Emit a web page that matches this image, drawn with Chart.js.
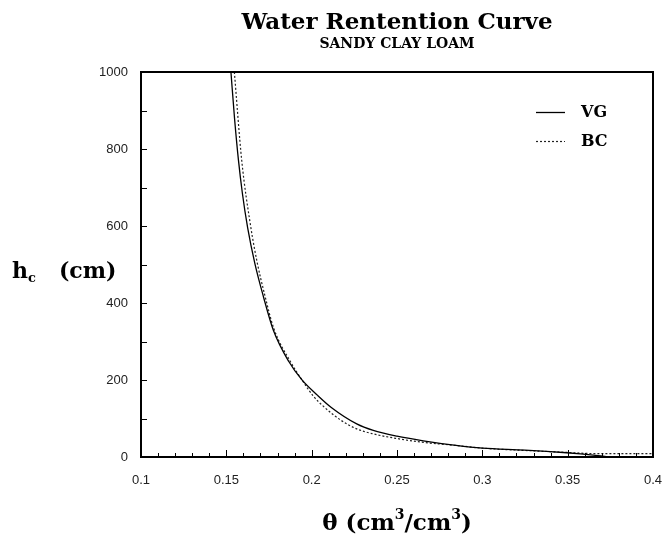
<!DOCTYPE html>
<html>
<head>
<meta charset="utf-8">
<script src="https://cdn.jsdelivr.net/npm/chart.js@4.4.1/dist/chart.umd.min.js"></script>
<style>
    html, body { margin: 0; padding: 0; background: #fff; }
</style>
</head>
<body>
<canvas id="waterChart" width="663" height="539"></canvas>
<script>
'use strict';

// van Genuchten curve (theta, h)
var vgTheta = [0.1527, 0.1548, 0.1571, 0.1594, 0.1625, 0.1667, 0.1717, 0.1775, 0.1866, 0.1942, 0.2035, 0.2117, 0.2264, 0.2361, 0.25, 0.2654, 0.2846, 0.3, 0.325, 0.3494, 0.365, 0.375];
var vgHead = [1000, 880, 771, 685, 595, 503, 417, 330, 248, 201, 160, 128, 86, 69, 54, 42, 30, 23, 18, 11, 5, 0];

// Brooks-Corey curve (theta, h)
var bcTheta = [0.1547, 0.159, 0.1643, 0.168, 0.1725, 0.1778, 0.1875, 0.1942, 0.201, 0.2068, 0.2166, 0.2264, 0.2361, 0.25, 0.2654, 0.2846, 0.3, 0.325, 0.3494, 0.365, 0.4];
var bcHead = [1000, 771, 598, 507, 421, 334, 248, 201, 158, 132, 97, 73, 60, 48, 38, 30, 23, 17, 12, 9, 9];

var seriesNames = ['VG', 'BC'];
var xTickValues = [0.1, 0.15, 0.2, 0.25, 0.3, 0.35, 0.4];
var yTickValues = [0, 200, 400, 600, 800, 1000];

var serif = '"DejaVu Serif", serif';

function toPoints(xs, ys) {
    var pts = [];
    for (var i = 0; i < xs.length; i++) {
        pts.push({x: xs[i], y: ys[i]});
    }
    return pts;
}

// draws a row of text pieces (for sub/superscripts), centred or left aligned
function drawRuns(ctx, runs, x, y, align) {
    var total = 0;
    runs.forEach(function (r) {
        ctx.font = r.font;
        r.w = ctx.measureText(r.text).width;
        total += r.w;
    });
    var cx = align === 'center' ? x - total / 2 : x;
    ctx.textAlign = 'left';
    ctx.textBaseline = 'alphabetic';
    runs.forEach(function (r) {
        ctx.font = r.font;
        ctx.fillText(r.text, cx, y + (r.dy || 0));
        cx += r.w;
    });
}

var decorPlugin = {
    id: 'decor',
    afterDatasetsDraw: function (chart) {
        var ctx = chart.ctx;
        var a = chart.chartArea;
        var xs = chart.scales.x;
        var ys = chart.scales.y;
        ctx.save();
        ctx.strokeStyle = '#000';

        // inward ticks
        ctx.lineWidth = 1;
        ctx.beginPath();
        for (var i = 11; i < 40; i++) {
            var px = Math.round(xs.getPixelForValue(i / 100)) + 0.5;
            var len = (i % 5 === 0) ? 7 : 4;
            ctx.moveTo(px, a.bottom);
            ctx.lineTo(px, a.bottom - len);
        }
        for (var v = 100; v < 1000; v += 100) {
            var py = Math.round(ys.getPixelForValue(v)) + 0.5;
            ctx.moveTo(a.left, py);
            ctx.lineTo(a.left + 6, py);
        }
        ctx.stroke();

        // frame
        ctx.lineWidth = 2;
        ctx.strokeRect(a.left, a.top, a.right - a.left, a.bottom - a.top);

        ctx.fillStyle = '#000';
        var mid = (a.left + a.right) / 2;

        // titles
        drawRuns(ctx, [{text: 'Water Rentention Curve', font: 'bold 23px ' + serif}], mid, 29, 'center');
        drawRuns(ctx, [{text: 'SANDY CLAY LOAM', font: 'bold 14px ' + serif}], mid, 48, 'center');

        // axis titles
        var big = 'bold 23px ' + serif;
        var small = 'bold 14px ' + serif;
        drawRuns(ctx, [
            {text: '\u03B8 (cm', font: big},
            {text: '3', font: small, dy: -11},
            {text: '/cm', font: big},
            {text: '3', font: small, dy: -11},
            {text: ')', font: big}
        ], mid, 530, 'center');
        drawRuns(ctx, [
            {text: 'h', font: 'bold 22px ' + serif},
            {text: 'c', font: 'bold 13px ' + serif, dy: 4},
            {text: '   (cm)', font: 'bold 22px ' + serif}
        ], 12, 278, 'left');

        // legend
        chart.data.datasets.forEach(function (ds, k) {
            var ly = a.top + 40 + k * 29;
            ctx.beginPath();
            ctx.lineWidth = ds.borderWidth;
            ctx.strokeStyle = ds.borderColor;
            ctx.setLineDash(ds.borderDash || []);
            ctx.moveTo(a.right - 117, ly + 0.5);
            ctx.lineTo(a.right - 88, ly + 0.5);
            ctx.stroke();
            ctx.setLineDash([]);
            ctx.fillStyle = '#000';
            ctx.font = 'bold 16px ' + serif;
            ctx.textBaseline = 'middle';
            ctx.fillText(ds.label, a.right - 72, ly + 1);
        });
        ctx.restore();
    }
};

var ctx = document.getElementById('waterChart').getContext('2d');
new Chart(ctx, {
    type: 'scatter',
    data: {
        datasets: [
            {
                label: seriesNames[0],
                data: toPoints(vgTheta, vgHead),
                showLine: true,
                borderColor: '#000',
                borderWidth: 1.3,
                pointRadius: 0,
                cubicInterpolationMode: 'monotone'
            },
            {
                label: seriesNames[1],
                data: toPoints(bcTheta, bcHead),
                showLine: true,
                borderColor: '#222',
                borderWidth: 1.2,
                borderDash: [2, 2],
                pointRadius: 0,
                cubicInterpolationMode: 'monotone'
            }
        ]
    },
    options: {
        responsive: false,
        animation: false,
        devicePixelRatio: 1,
        layout: {padding: {left: 0, top: 72, right: 10, bottom: 0}},
        plugins: {
            legend: {display: false},
            title: {display: false},
            tooltip: {enabled: false}
        },
        scales: {
            x: {
                type: 'linear',
                min: 0.1,
                max: 0.4,
                grid: {display: false, drawTicks: false},
                border: {display: false},
                afterBuildTicks: function (scale) {
                    scale.ticks = xTickValues.map(function (v) { return {value: v}; });
                },
                afterFit: function (scale) {
                    scale.height = 82;
                    scale.paddingLeft = 0;
                    scale.paddingRight = 0;
                },
                ticks: {
                    padding: 16,
                    color: '#222',
                    font: {family: '"Liberation Sans", Arial, sans-serif', size: 13},
                    maxRotation: 0,
                    callback: function (v) { return String(+v.toFixed(2)); }
                }
            },
            y: {
                type: 'linear',
                min: 0,
                max: 1000,
                grid: {display: false, drawTicks: false},
                border: {display: false},
                afterBuildTicks: function (scale) {
                    scale.ticks = yTickValues.map(function (v) { return {value: v}; });
                },
                afterFit: function (scale) {
                    scale.width = 141;
                    scale.paddingTop = 0;
                    scale.paddingBottom = 0;
                },
                ticks: {
                    padding: 13,
                    color: '#222',
                    font: {family: '"Liberation Sans", Arial, sans-serif', size: 13},
                    callback: function (v) { return String(v); }
                }
            }
        }
    },
    plugins: [decorPlugin]
});
</script>
</body>
</html>
